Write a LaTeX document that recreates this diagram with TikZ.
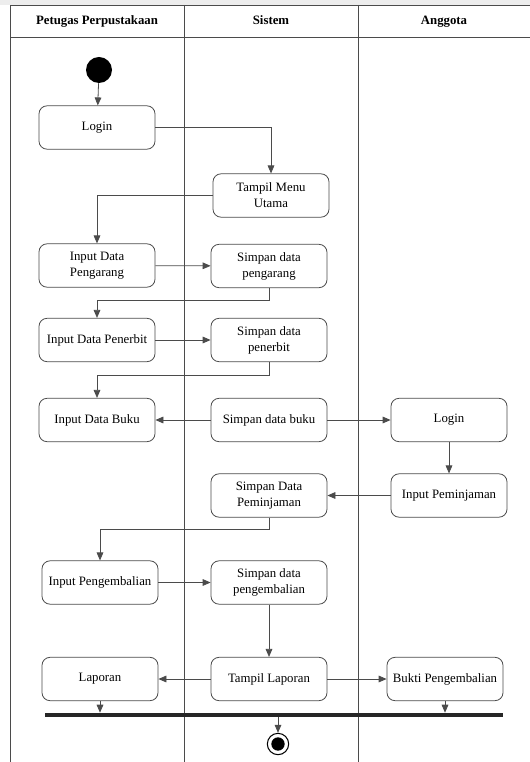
\documentclass[tikz,border=0pt]{standalone}
\usepackage{fontspec}
\setmainfont{Liberation Serif}
\usetikzlibrary{arrows.meta}
\definecolor{linegray}{RGB}{75,75,75}
\begin{document}
\begin{tikzpicture}[x=0.75pt,y=-0.75pt,
    font=\fontsize{9.6pt}{12pt}\selectfont,
    activity/.style={draw=linegray, line width=0.6pt, rounded corners=6pt,
        minimum width=87pt, minimum height=32.5pt, align=center, inner sep=1pt},
    flow/.style={draw=linegray, line width=0.6pt, -{Triangle[length=6pt,width=5pt]}},
    lane/.style={draw=linegray, line width=0.7pt},
    head/.style={font=\fontsize{9.6pt}{12pt}\selectfont\bfseries, text height=7pt, text depth=2pt}]
            \useasboundingbox (0,0) rectangle (530,762);
            \fill[black!7] (0,0) rectangle (530,5);
            \draw[lane] (10,762) -- (10,5) -- (530,5);
            \draw[lane] (10,37) -- (530,37);
            \draw[lane] (184,5) -- (184,762);
            \draw[lane] (358,5) -- (358,762);

            \node[head] (petugas) at (97,21) {Petugas Perpustakaan};
            \node[head] (sistem) at (271,21) {Sistem};
            \node[head] (anggota) at (444,21) {Anggota};

            \node[circle, fill=black, minimum size=19.5pt, inner sep=0pt] (start) at (99,70) {};
            \node[activity] (login) at (97,127.5) {Login};
            \node[activity] (menu) at (271,195.5) {Tampil Menu\\Utama};
            \node[activity] (inPengarang) at (97,265.5) {Input Data\\Pengarang};
            \node[activity] (smPengarang) at (269,266) {Simpan data\\pengarang};
            \node[activity] (inPenerbit) at (97,340) {Input Data Penerbit};
            \node[activity] (smPenerbit) at (269,340) {Simpan data\\penerbit};
            \node[activity] (inBuku) at (97,420) {Input Data Buku};
            \node[activity] (smBuku) at (269,420) {Simpan data buku};
            \node[activity] (loginAgt) at (449,420) {Login};
            \node[activity] (inPinjam) at (449,495.5) {Input Peminjaman};
            \node[activity] (smPinjam) at (269,495.5) {Simpan Data\\Peminjaman};
            \node[activity] (inKembali) at (100,582.5) {Input Pengembalian};
            \node[activity] (smKembali) at (269,582.5) {Simpan data\\pengembalian};
            \node[activity] (laporan) at (100,679) {Laporan};
            \node[activity] (tampilLap) at (269,679) {Tampil Laporan};
            \node[activity] (bukti) at (445,679) {Bukti Pengembalian};
            \node[fill=black!85, minimum width=343.5pt, minimum height=3pt, inner sep=0pt] (join) at (274,715) {};
            \node[circle, draw=black, line width=0.8pt, minimum size=16pt, inner sep=0pt,
                path picture={\fill[black] (path picture bounding box.center) circle (5pt);}] (end) at (278,744) {};

            \draw[flow] (start) -- (login);
            \draw[flow] (login.east) -| (menu.north);
            \draw[flow] (menu.west) -| (inPengarang.north);
            \draw[flow] (inPengarang) -- (smPengarang);
            \draw[flow] (smPengarang.south) -- ++(0,12) -| (inPenerbit.north);
            \draw[flow] (inPenerbit) -- (smPenerbit);
            \draw[flow] (smPenerbit.south) -- ++(0,13) -| (inBuku.north);
            \draw[flow] (smBuku) -- (inBuku);
            \draw[flow] (smBuku) -- (loginAgt);
            \draw[flow] (loginAgt) -- (inPinjam);
            \draw[flow] (inPinjam) -- (smPinjam);
            \draw[flow] (smPinjam.south) -- ++(0,12) -| (inKembali.north);
            \draw[flow] (inKembali) -- (smKembali);
            \draw[flow] (smKembali) -- (tampilLap);
            \draw[flow] (tampilLap) -- (laporan);
            \draw[flow] (tampilLap) -- (bukti);
            \draw[flow] (laporan.south) -- (laporan.south |- join.north);
            \draw[flow] (bukti.south) -- (bukti.south |- join.north);
            \draw[flow] (end.north |- join.south) -- (end.north);

        \end{tikzpicture}
\end{document}
